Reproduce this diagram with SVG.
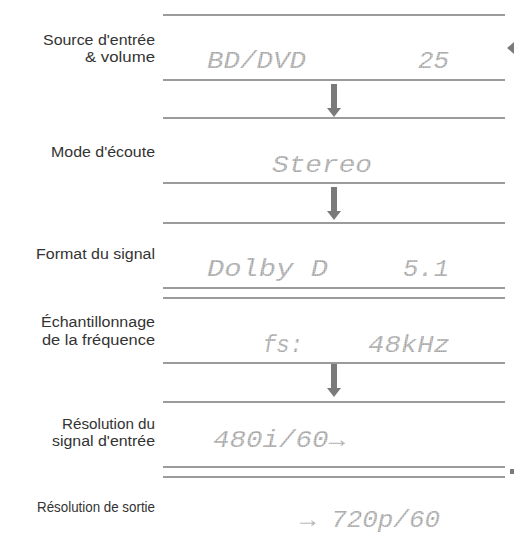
<svg xmlns="http://www.w3.org/2000/svg" width="514" height="537" viewBox="0 0 514 537">
<style>
.lbl{font-family:"Liberation Sans",Arial,sans-serif;font-size:15.5px;fill:#333;text-anchor:end}
.dm{font-family:"Liberation Mono","DejaVu Sans Mono",monospace;font-size:24px;font-style:italic;fill:url(#dots);stroke:none}
.ln{stroke:#7a7a7a;stroke-width:1.4;fill:none}
.arr{fill:#7a7a7a}
</style>
<defs>
<pattern id="dots" patternUnits="userSpaceOnUse" width="1.8" height="1.8">
<rect width="1.8" height="1.8" fill="#e4e4e4"/>
<rect x="0.2" y="0.2" width="1.1" height="1.1" fill="#666"/>
</pattern>
<path id="down" d="M-3,0 h6 v24 h4 l-7,9 l-7,-9 h4 z"/>
</defs>
<rect width="514" height="537" fill="#fff"/>
<g id="rules">
<line class="ln" x1="163" y1="15" x2="505" y2="15"/>
<line class="ln" x1="163" y1="80" x2="505" y2="80"/>
<line class="ln" x1="163" y1="118" x2="505" y2="118"/>
<line class="ln" x1="163" y1="183" x2="505" y2="183"/>
<line class="ln" x1="163" y1="223" x2="505" y2="223"/>
<line class="ln" x1="163" y1="288" x2="505" y2="288"/>
<line class="ln" x1="163" y1="298" x2="505" y2="298"/>
<line class="ln" x1="163" y1="363" x2="505" y2="363"/>
<line class="ln" x1="163" y1="402" x2="505" y2="402"/>
<line class="ln" x1="163" y1="467" x2="505" y2="467"/>
<line class="ln" x1="163" y1="477" x2="505" y2="477"/>
</g>
<g id="source">
<text class="lbl" x="155" y="45" textLength="112" lengthAdjust="spacingAndGlyphs">Source d'entrée</text>
<text class="lbl" x="155" y="62" textLength="70" lengthAdjust="spacingAndGlyphs">&amp; volume</text>
<text class="dm" x="207" y="68" textLength="99" lengthAdjust="spacingAndGlyphs">BD/DVD</text>
<text class="dm" x="418" y="68" textLength="31" lengthAdjust="spacingAndGlyphs">25</text>
</g>
<g id="mode">
<text class="lbl" x="155" y="157" textLength="104" lengthAdjust="spacingAndGlyphs">Mode d'écoute</text>
<text class="dm" x="272" y="172" textLength="100" lengthAdjust="spacingAndGlyphs">Stereo</text>
</g>
<g id="format">
<text class="lbl" x="155" y="259" textLength="119" lengthAdjust="spacingAndGlyphs">Format du signal</text>
<text class="dm" x="207" y="276" textLength="121" lengthAdjust="spacingAndGlyphs">Dolby D</text>
<text class="dm" x="403" y="276" textLength="46" lengthAdjust="spacingAndGlyphs">5.1</text>
</g>
<g id="sampling">
<text class="lbl" x="155" y="327" textLength="114" lengthAdjust="spacingAndGlyphs">Échantillonnage</text>
<text class="lbl" x="155" y="345" textLength="113" lengthAdjust="spacingAndGlyphs">de la fréquence</text>
<text class="dm" x="263" y="352" textLength="40" lengthAdjust="spacingAndGlyphs">fs:</text>
<text class="dm" x="368" y="352" textLength="82" lengthAdjust="spacingAndGlyphs">48kHz</text>
</g>
<g id="input-res">
<text class="lbl" x="155" y="429" textLength="93" lengthAdjust="spacingAndGlyphs">Résolution du</text>
<text class="lbl" x="155" y="446" textLength="103" lengthAdjust="spacingAndGlyphs">signal d'entrée</text>
<text class="dm" x="213" y="447" textLength="132" lengthAdjust="spacingAndGlyphs">480i/60→</text>
</g>
<g id="output-res">
<text class="lbl" x="155" y="512" textLength="118" lengthAdjust="spacingAndGlyphs">Résolution de sortie</text>
<text class="dm" x="300" y="527" textLength="140" lengthAdjust="spacingAndGlyphs">→ 720p/60</text>
</g>
<g id="connectors">
<use href="#down" class="arr" x="334" y="84"/>
<use href="#down" class="arr" x="334" y="187"/>
<use href="#down" class="arr" x="334" y="364"/>
<polygon class="arr" points="507,48 514,42 514,54"/>
<rect class="arr" x="510" y="469" width="4" height="5"/>
</g>
</svg>
